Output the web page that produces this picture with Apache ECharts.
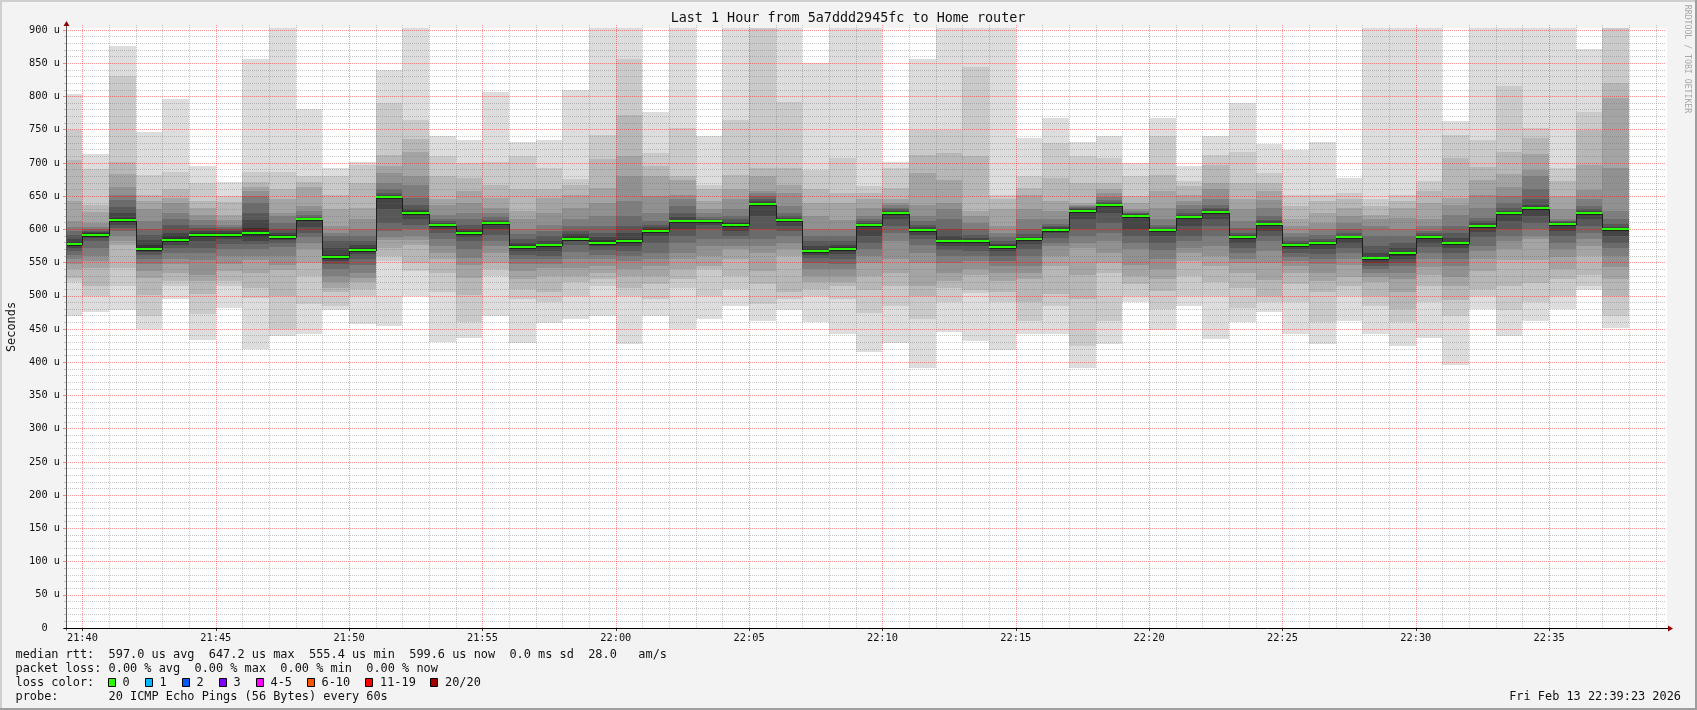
<!DOCTYPE html>
<html><head><meta charset="utf-8">
<script src="https://cdn.jsdelivr.net/npm/echarts@6/dist/echarts.min.js"></script>
<style>html,body{margin:0;padding:0;background:#f3f3f3;}#c{width:1697px;height:710px;}</style>
</head><body><div id="c"></div>
<script>
// ---------- data ----------
const graphStart = '21:39:23';
const graphEnd = '22:39:23';
const times = ['21:39','21:40','21:41','21:42','21:43','21:44','21:45','21:46','21:47','21:48',
'21:49','21:50','21:51','21:52','21:53','21:54','21:55','21:56','21:57','21:58',
'21:59','22:00','22:01','22:02','22:03','22:04','22:05','22:06','22:07','22:08',
'22:09','22:10','22:11','22:12','22:13','22:14','22:15','22:16','22:17','22:18',
'22:19','22:20','22:21','22:22','22:23','22:24','22:25','22:26','22:27','22:28',
'22:29','22:30','22:31','22:32','22:33','22:34','22:35','22:36','22:37'];
const timeTicks = ['21:40','21:45','21:50','21:55','22:00','22:05','22:10','22:15','22:20','22:25','22:30','22:35'];
// median rtt per minute (microseconds)
const median = [578,591,614,571,584,591,591,594,589,615,
559,569,648,625,607,595,609,574,576,586,
580,582,598,612,612,607,638,614,568,571,
606,624,599,582,582,574,585,599,628,637,
620,599,618,626,588,608,576,579,588,557,
564,588,579,605,624,632,608,625,600];
// sorted ping rtts per minute (ping01 = fastest ... ping20 = slowest), microseconds
const ping01 = [470,476,479,450,495,433,481,420,440,442,478,458,455,499,431,437,470,429,459,465,470,428,470,450,465,485,462,478,460,442,415,429,392,446,432,418,443,443,391,427,490,448,485,435,460,476,443,428,462,442,425,436,396,480,440,462,480,508,452];
const ping02 = [520,500,515,470,514,472,515,497,450,487,485,500,552,537,505,461,530,495,490,500,515,500,495,511,500,510,487,495,500,495,474,485,465,490,504,491,462,485,425,462,500,480,500,500,481,491,490,460,500,485,460,490,470,499,479,490,500,515,470];
const ping03 = [527,515,542,501,522,502,522,512,499,530,505,510,560,550,535,501,540,510,505,520,525,512,517,525,540,530,517,505,510,515,509,515,500,511,509,505,490,502,495,535,517,507,530,520,511,500,517,505,514,500,480,514,494,510,514,519,526,531,499];
const ping04 = [540,542,577,527,535,522,537,534,539,550,512,520,572,577,555,527,550,525,530,530,535,530,530,540,545,555,537,560,520,520,530,535,515,522,532,522,525,545,532,550,530,525,552,545,534,524,535,522,529,520,505,531,514,538,554,554,541,560,525];
const ping05 = [548,553,583,538,548,531,548,554,547,570,520,527,584,584,565,547,565,537,542,542,545,540,545,555,560,570,565,570,530,530,549,555,550,535,540,535,535,560,572,565,547,540,565,560,549,550,545,535,547,528,525,544,529,555,570,585,559,575,544];
const ping06 = [555,560,590,548,556,554,560,560,560,580,530,535,589,590,575,557,575,548,548,555,555,553,555,565,575,575,575,580,540,540,560,583,565,550,552,545,545,575,580,582,570,555,572,575,555,567,552,548,555,534,535,555,545,567,582,590,570,585,560];
const ping07 = [562,572,597,556,565,564,570,570,574,588,540,547,598,600,585,570,582,555,555,566,562,560,565,580,585,585,585,590,550,548,570,595,577,560,560,553,560,580,590,595,580,569,582,590,564,582,558,556,565,540,545,565,555,575,590,600,580,594,572];
const ping08 = [568,582,602,562,572,572,578,578,580,595,548,556,610,607,595,582,592,562,560,576,569,567,580,590,600,590,600,598,557,556,580,605,585,569,568,560,570,587,600,610,590,580,590,605,572,590,565,563,572,545,550,573,565,588,600,610,590,605,580];
const ping09 = [572,587,606,566,577,582,585,583,584,604,552,563,630,615,600,588,600,568,568,582,575,575,590,600,607,598,620,605,562,563,590,615,592,575,575,567,578,595,615,625,600,590,605,615,580,598,570,570,580,550,555,580,572,596,612,620,598,615,590];
const ping10 = [576,590,611,570,581,590,590,588,587,613,556,568,646,622,605,593,607,573,574,584,579,580,597,610,611,605,636,613,566,569,604,623,597,580,580,572,583,597,626,636,618,598,616,624,586,606,574,576,586,554,560,585,577,602,622,629,606,623,599];
const ping11 = [581,594,617,576,590,594,594,602,591,616,562,572,650,627,608,597,610,577,578,590,584,585,601,614,613,609,640,616,570,573,607,626,601,584,584,576,587,601,630,638,622,600,619,628,590,610,578,580,589,558,566,589,581,607,625,633,610,626,602];
const ping12 = [586,596,624,584,595,598,597,614,595,617,572,577,652,630,610,600,612,580,582,593,588,595,603,618,614,611,642,617,575,576,609,628,603,590,587,578,589,603,631,639,623,601,621,630,592,612,580,582,590,565,572,591,587,609,627,637,611,627,604];
const ping13 = [592,598,634,592,607,602,600,625,600,619,582,583,655,637,612,607,614,585,590,598,595,605,606,625,615,615,646,620,582,582,612,630,606,600,592,582,593,605,632,641,624,603,625,632,595,614,583,586,594,575,580,594,595,612,632,645,612,630,608];
const ping14 = [598,600,644,601,615,607,603,640,610,622,590,590,660,647,615,615,618,593,598,605,605,620,612,635,618,620,650,625,590,590,615,632,612,615,600,588,600,608,633,644,625,607,630,637,602,620,588,592,600,590,590,598,605,617,640,660,613,635,615];
const ping15 = [604,604,652,612,624,614,607,650,620,627,595,600,670,667,622,625,625,600,607,616,620,642,625,645,625,630,654,635,600,600,620,636,620,630,610,595,615,615,635,648,627,615,637,645,612,632,595,600,610,605,600,605,622,632,650,680,615,645,627];
const ping16 = [612,610,664,630,640,622,614,658,624,635,605,615,685,680,637,640,632,615,625,632,640,680,650,652,630,645,657,655,620,614,632,640,637,640,620,605,630,627,637,655,630,632,642,660,630,644,605,610,620,615,617,615,637,652,664,690,630,659,692];
const ping17 = [642,626,683,642,647,632,622,664,645,664,631,632,695,717,645,657,647,627,647,652,662,711,680,675,642,660,680,667,640,640,645,645,685,675,627,630,652,642,640,660,640,657,652,670,645,657,615,624,632,622,632,640,647,675,684,714,650,697,797];
const ping18 = [705,637,702,651,660,642,641,671,660,671,652,670,712,736,680,677,667,660,660,667,706,772,695,680,660,682,692,692,660,655,655,662,712,715,710,645,662,677,670,670,650,682,665,697,670,670,635,642,645,635,642,657,708,694,717,737,672,749,820];
const ping19 = [749,691,831,682,687,670,650,687,686,680,680,697,790,765,710,700,702,710,692,676,742,857,715,752,667,765,920,791,690,707,665,692,750,750,845,652,680,730,710,707,680,740,672,712,717,685,651,651,655,645,652,673,742,734,816,752,692,777,930];
const ping20 = [804,714,876,747,796,695,671,856,920,781,692,702,840,920,740,735,807,732,735,810,920,930,777,930,741,930,960,920,850,930,930,702,856,930,930,940,737,767,731,741,700,767,695,740,790,729,720,731,678,960,940,930,763,930,930,940,930,871,960];

const lossLabels = ['0','1','2','3','4-5','6-10','11-19','20/20'];
const lossColors = ['#26ff00','#00b8ff','#0059ff','#7e00ff','#ff00ff','#ff5500','#ff0000','#a10000'];
const titleText = 'Last 1 Hour from 5a7ddd2945fc to Home router';
const legendLines = [
  'median rtt:  597.0 us avg  647.2 us max  555.4 us min  599.6 us now  0.0 ms sd  28.0   am/s',
  'packet loss: 0.00 % avg  0.00 % max  0.00 % min  0.00 % now',
  'loss color:',
  'probe:       20 ICMP Echo Pings (56 Bytes) every 60s'
];
const dateText = 'Fri Feb 13 22:39:23 2026';

// ---------- helpers ----------
function toMin(t){ const p=t.split(':').map(Number); return (p[0]-21)*60 + p[1] + (p[2]||0)/60; }
const xMin = toMin(graphStart), xMax = toMin(graphEnd);
const yMax = 900, yCanvasTop = 902.5;
const pings = [ping01,ping02,ping03,ping04,ping05,ping06,ping07,ping08,ping09,ping10,
               ping11,ping12,ping13,ping14,ping15,ping16,ping17,ping18,ping19,ping20];
const smokeData = times.map((t,i)=>[toMin(t)].concat(pings.map(p=>p[i])));
const medianData = times.map((t,i)=>[toMin(t), median[i], i+1<median.length ? median[i+1] : median[i]]);
const gridMinutes = [];
for (let m = Math.ceil(xMin); m <= Math.floor(xMax); m++) gridMinutes.push(m);
const tickVals = timeTicks.map(toMin);
const FONT = '"DejaVu Sans Mono", monospace';
const fmtTime = v => { const h = 21 + Math.floor(v/60), m = Math.round(v%60); return h + ':' + (m<10?'0':'') + m; };
const bandColors = [];
for (let b = 1; b <= 10; b++) { const g = Math.floor(190/10*(10-b))+50; bandColors.push('rgb('+g+','+g+','+g+')'); }

const chart = echarts.init(document.getElementById('c'));
chart.setOption({
  backgroundColor: '#f3f3f3',
  animation: false,
  grid: { left: 66, top: 30, width: 1600, height: 598, show: false },
  xAxis: {
    type: 'value', min: xMin, max: xMax,
    axisLine: { show: false },
    splitLine: { show: false },
    axisTick: { show: true, customValues: tickVals, length: 3, lineStyle: { color: '#333' } },
    axisLabel: { customValues: tickVals, formatter: fmtTime, margin: 5,
      fontFamily: FONT, fontSize: 10.3, color: '#111' }
  },
  yAxis: {
    type: 'value', min: 0, max: yMax, interval: 50, z: 3,
    axisLine: { show: false },
    axisTick: { show: true, length: 3, lineStyle: { color: 'rgba(255,0,0,0.45)' } },
    minorTick: { show: true, splitNumber: 5, length: 2, lineStyle: { color: 'rgba(120,120,120,0.4)' } },
    splitLine: { show: true, lineStyle: { color: 'rgba(255,0,0,0.42)', type: [1,1], width: 1 } },
    minorSplitLine: { show: true, lineStyle: { color: 'rgba(110,110,110,0.38)', type: [1,1], width: 1 } },
    axisLabel: { formatter: v => v === 0 ? '0  ' : v + ' u', margin: 6,
      fontFamily: FONT, fontSize: 10.3, color: '#111' }
  },
  series: [
    {
      type: 'custom', name: 'smoke', z: 2, silent: true, clip: false,
      data: smokeData,
      renderItem: (params, api) => {
        const m = api.value(0);
        const xa = Math.max(m, xMin), xb = Math.min(m+1, xMax);
        const children = [];
        for (let b = 0; b < 10; b++) {
          const lo = Math.min(api.value(1+b), yCanvasTop);
          const hi = Math.min(api.value(20-b), yCanvasTop);
          const p0 = api.coord([xa, lo]), p1 = api.coord([xb, hi]);
          const x0 = Math.round(p0[0]), x1 = Math.round(p1[0]);
          const y0 = Math.round(p0[1]), y1 = Math.round(p1[1]);
          children.push({ type: 'rect', shape: { x: x0, y: y1, width: x1-x0, height: y0-y1 },
            style: { fill: bandColors[b] } });
        }
        return { type: 'group', children };
      }
    },
    {
      type: 'custom', name: 'xgrid', z: 3, silent: true, clip: false,
      data: gridMinutes,
      renderItem: (params, api) => {
        const v = api.value(0);
        const top = api.coord([v, yCanvasTop]), bot = api.coord([v, 0]);
        const x = Math.round(top[0]) + 0.5;
        const major = Math.abs(v % 5) < 1e-6;
        return { type: 'line', shape: { x1: x, y1: Math.round(top[1]) - 3, x2: x, y2: Math.round(bot[1]) },
          style: { stroke: major ? 'rgba(255,0,0,0.42)' : 'rgba(110,110,110,0.38)', lineWidth: 1, lineDash: [1,1] } };
      }
    },
    {
      type: 'custom', name: 'median', z: 4, silent: true, clip: false,
      data: medianData,
      renderItem: (params, api) => {
        const m = api.value(0), v = api.value(1), nv = api.value(2);
        const a = api.coord([Math.max(m, xMin), v]), b = api.coord([Math.min(m+1, xMax), v]);
        const n = api.coord([m+1, nv]);
        const x0 = Math.round(a[0]), x1 = Math.round(b[0]);
        const r = Math.round(a[1]), rn = Math.round(n[1]);
        const kids = [
          { type: 'line', shape: { x1: x0, y1: r+1.5, x2: x1, y2: r+1.5 }, style: { stroke: '#202020', lineWidth: 1 } },
          { type: 'rect', shape: { x: x0, y: r-1, width: x1-x0, height: 2 }, style: { fill: lossColors[0] } }
        ];
        if (params.dataIndex < median.length - 1) {
          kids.push({ type: 'line', shape: { x1: x1+0.5, y1: r+1, x2: x1+0.5, y2: rn+1 }, style: { stroke: '#202020', lineWidth: 1 } });
        }
        return { type: 'group', children: kids };
      }
    }
  ]
});

// ---------- frame, axes, texts ----------
const origin = chart.convertToPixel({ gridIndex: 0 }, [xMin, 0]);
const corner = chart.convertToPixel({ gridIndex: 0 }, [xMax, yCanvasTop]);
const ax = Math.round(origin[0]) + 0.5, ay = Math.round(origin[1]) + 0.5;
const cTop = Math.round(corner[1]), cRight = Math.round(corner[0]);
const T = (text, x, y, opts) => Object.assign({ type: 'text', x, y, z: 20,
  style: Object.assign({ text, font: '11.9px ' + FONT, fill: '#111', textAlign: 'left', textVerticalAlign: 'middle', align: 'left', verticalAlign: 'middle' }, (opts||{}).style) }, opts ? { rotation: opts.rotation || 0 } : {});
const g = [
  { type: 'rect', z: -5, shape: { x: Math.round(origin[0]), y: cTop, width: cRight - Math.round(origin[0]) + 1, height: Math.round(origin[1]) - cTop }, style: { fill: '#ffffff' } },
  { type: 'rect', z: 30, shape: { x: 0, y: 0, width: 1697, height: 2 }, style: { fill: '#cfcfcf' } },
  { type: 'rect', z: 30, shape: { x: 0, y: 0, width: 2, height: 710 }, style: { fill: '#cfcfcf' } },
  { type: 'rect', z: 30, shape: { x: 0, y: 708, width: 1697, height: 2 }, style: { fill: '#9e9e9e' } },
  { type: 'rect', z: 30, shape: { x: 1695, y: 0, width: 2, height: 710 }, style: { fill: '#9e9e9e' } },
  // axes
  { type: 'line', z: 20, shape: { x1: ax, y1: ay + 2, x2: ax, y2: cTop - 3 }, style: { stroke: '#555', lineWidth: 1 } },
  { type: 'line', z: 20, shape: { x1: ax - 3, y1: ay, x2: cRight + 3, y2: ay }, style: { stroke: '#000', lineWidth: 1 } },
  { type: 'polygon', z: 21, shape: { points: [[ax, cTop - 7], [ax - 3, cTop - 2], [ax + 3, cTop - 2]] }, style: { fill: '#8f0000' } },
  { type: 'polygon', z: 21, shape: { points: [[cRight + 7, ay], [cRight + 2, ay - 3], [cRight + 2, ay + 3]] }, style: { fill: '#8f0000' } },
  // title & labels
  T(titleText, 848, 18.5, { style: { font: '13.4px ' + FONT, textAlign: 'center', align: 'center' } }),
  T('Seconds', 12, 327, { rotation: Math.PI/2, style: { textAlign: 'center', align: 'center' } }),
  T('RRDTOOL / TOBI OETIKER', 1687, 59, { rotation: -Math.PI/2, style: { font: '8.2px ' + FONT, fill: '#a8a8a8', textAlign: 'center', align: 'center' } }),
  T(dateText, 1681, 696.5, { style: { textAlign: 'right', align: 'right' } })
];
const lineY = [654.5, 668.5, 682.5, 696.5];
legendLines.forEach((s, i) => g.push(T(s, 15.5, lineY[i])));
const boxX = [108.5, 145.5, 182.5, 219.5, 256.5, 307.5, 365.5, 430.5];
const labX = [122.5, 159.5, 196.5, 233.5, 270.5, 321.5, 380, 445];
lossLabels.forEach((l, i) => {
  g.push({ type: 'rect', z: 20, shape: { x: boxX[i], y: 678.5, width: 7, height: 8 }, style: { fill: lossColors[i], stroke: '#000', lineWidth: 1 } });
  g.push(T(l, labX[i], lineY[2]));
});
chart.setOption({ graphic: g });
</script>
</body></html>
